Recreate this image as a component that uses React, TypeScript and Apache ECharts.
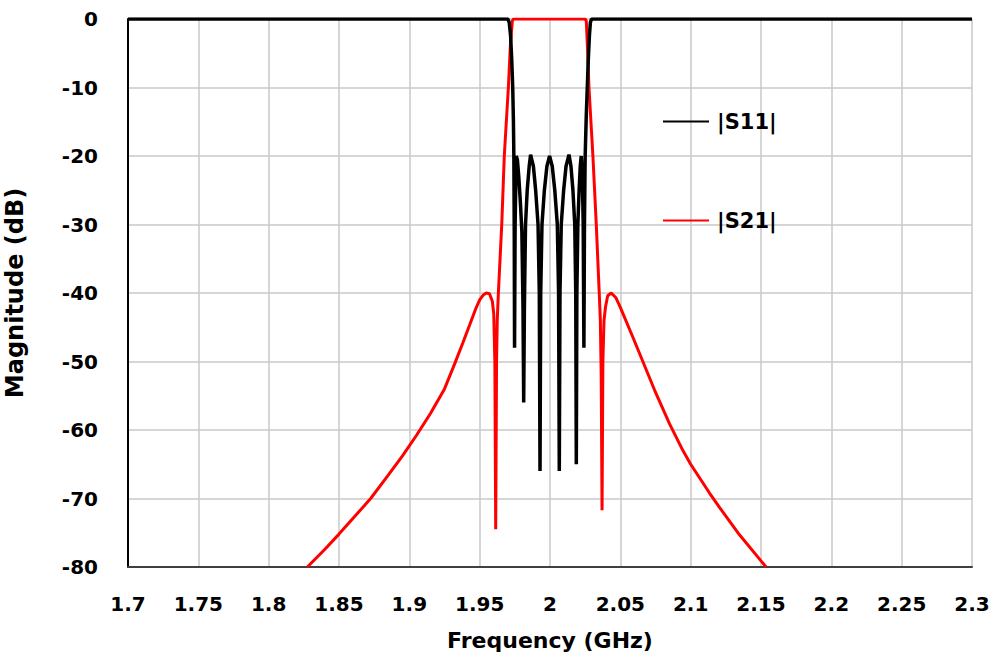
import React, { useEffect, useRef } from "react";
import * as echarts from "echarts";

const xTicks = { min: 1.7, max: 2.3, interval: 0.05 };
const yTicks = { min: -80, max: 0, interval: 10 };

const s11Name = "|S11|";
const s21Name = "|S21|";

const s21Freq = [
  1.8275, 1.84, 1.85, 1.86, 1.8725, 1.885, 1.895, 1.905, 1.915, 1.925, 1.9325, 1.938, 1.9432, 1.947, 1.95,
  1.9525, 1.9547, 1.957, 1.959, 1.96,
  1.9608, 1.9614, 1.962, 1.9625, 1.9633, 1.9657, 1.9675, 1.9704, 1.9718, 1.9732, 1.974,
  2.0, 2.025, 2.0258, 2.0266, 2.0277, 2.0305, 2.0329, 2.035, 2.0358, 2.0364, 2.037, 2.0376, 2.0384,
  2.0395, 2.041, 2.0435, 2.0469, 2.05, 2.059, 2.066, 2.0744, 2.085, 2.0945, 2.1, 2.1134, 2.1205, 2.1347, 2.1536,
];
const s21dB = [
  -80, -77.4, -75.2, -72.9, -70, -66.6, -63.8, -60.8, -57.6, -54, -50.2, -47.3, -44.5, -42.4, -41,
  -40.3, -40, -40.1, -41.2, -43,
  -50, -74.5, -50, -44, -40, -30, -20, -10, -4, -0.3, 0,
  0, 0, -0.3, -4, -10, -20, -30, -40, -44, -52, -71.7, -50, -44,
  -42, -40.4, -40, -40.7, -42.1, -46.5, -50, -54.2, -59.1, -63, -65, -69.2, -71.3, -75.3, -80,
];

const s11Freq = [
  1.7, 1.97, 1.971, 1.972, 1.9728, 1.9735, 1.974, 1.9743, 1.9746, 1.9748, 1.9752, 1.976,
  1.9768, 1.9778, 1.979, 1.98, 1.9808, 1.9813, 1.9818, 1.9826, 1.9838, 1.9852, 1.9862,
  1.9882, 1.9898, 1.9915, 1.9924, 1.9929, 1.9934, 1.9943, 1.996, 1.9978, 1.9997,
  2.0016, 2.0034, 2.0052, 2.0061, 2.0066, 2.0071, 2.008, 2.0097, 2.0114, 2.0135,
  2.0149, 2.0163, 2.0176, 2.0183, 2.0187, 2.0191, 2.0198, 2.0207, 2.0215, 2.0222,
  2.023, 2.0236, 2.0241, 2.0245, 2.025, 2.0258, 2.0265, 2.0272, 2.028, 2.0287, 2.0295, 2.3,
];
const s11dB = [
  0, 0, -0.5, -2.5, -6, -10, -15, -20, -32, -48, -30, -20,
  -20.5, -23, -27, -31, -42, -56, -42, -30, -25, -21.5, -19.8,
  -21.5, -25, -30, -40, -66, -40, -30, -25, -21.5, -20,
  -21.5, -25, -30, -40, -66, -40, -30, -25, -21.5, -19.8,
  -21.5, -25, -30, -40, -65, -40, -30, -25, -21.5, -20,
  -23, -30, -48, -30, -20, -14, -10, -6, -2.5, -0.5, 0, 0,
];

const fmtX = (v: number) => String(parseFloat(v.toFixed(2)));

export default function App() {
  const ref = useRef<HTMLDivElement>(null);
  useEffect(() => {
    if (!ref.current) return;
    const chart = echarts.init(ref.current, undefined, { renderer: "svg" });
    const font = "DejaVu Sans";
    chart.setOption({
      animation: false,
      backgroundColor: "#ffffff",
      grid: { left: 128, right: 21, top: 19, bottom: 91, containLabel: false, outerBoundsMode: "none" },
      legend: {
        orient: "vertical",
        left: 658,
        top: 106,
        itemGap: 78,
        itemWidth: 46,
        itemHeight: 22,
        icon: "path://M0,10 L46,10 L46,12 L0,12 Z",
        textStyle: { fontFamily: font, fontWeight: "bold", fontSize: 21, color: "#000", padding: [0, 0, 0, 3] },
        data: [
          { name: s11Name, itemStyle: { color: "#000000" } },
          { name: s21Name, itemStyle: { color: "#ff0000" } },
        ],
      },
      xAxis: {
        type: "value",
        min: xTicks.min,
        max: xTicks.max,
        interval: xTicks.interval,
        name: "Frequency (GHz)",
        nameLocation: "middle",
        nameGap: 62,
        nameTextStyle: { fontFamily: font, fontWeight: "bold", fontSize: 22, color: "#000" },
        axisLine: { onZero: false, lineStyle: { color: "#404040", width: 2 } },
        axisTick: { show: false },
        axisLabel: {
          formatter: fmtX,
          margin: 27,
          fontFamily: font,
          fontWeight: "bold",
          fontSize: 20,
          color: "#000",
        },
        splitLine: { show: true, lineStyle: { color: "#c8c8c8", width: 1.5 } },
      },
      yAxis: {
        type: "value",
        min: yTicks.min,
        max: yTicks.max,
        interval: yTicks.interval,
        name: "Magnitude (dB)",
        nameLocation: "middle",
        nameGap: 101,
        nameTextStyle: { fontFamily: font, fontWeight: "bold", fontSize: 24, color: "#000" },
        axisLine: { show: true, onZero: false, lineStyle: { color: "#000", width: 2 } },
        axisTick: { show: false },
        axisLabel: { margin: 30, fontFamily: font, fontWeight: "bold", fontSize: 20, color: "#000" },
        splitLine: { show: true, lineStyle: { color: "#c8c8c8", width: 1.5 } },
      },
      series: [
        {
          name: s21Name,
          type: "line",
          showSymbol: false,
          symbol: "none",
          data: s21Freq.map((f, i) => [f, s21dB[i]]),
          lineStyle: { color: "#ff0000", width: 3 },
          itemStyle: { color: "#ff0000" },
          z: 2,
        },
        {
          name: s11Name,
          type: "line",
          showSymbol: false,
          symbol: "none",
          data: s11Freq.map((f, i) => [f, s11dB[i]]),
          lineStyle: { color: "#000000", width: 3.5 },
          itemStyle: { color: "#000000" },
          z: 3,
        },
      ],
    });
    return () => chart.dispose();
  }, []);
  return (
    <div
      ref={ref}
      style={{ position: "fixed", left: 0, top: 0, width: 993, height: 658, background: "#fff" }}
    />
  );
}
